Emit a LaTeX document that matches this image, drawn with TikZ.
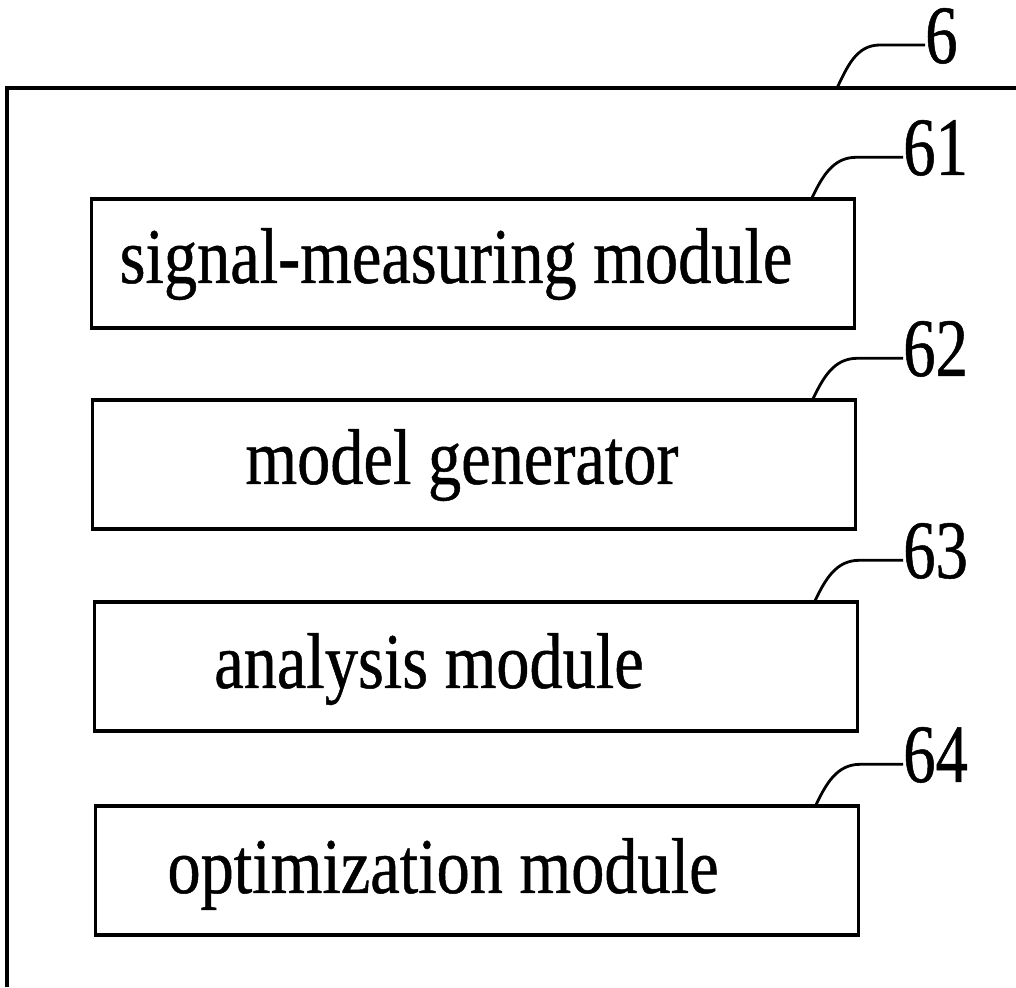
\documentclass[tikz,border=0pt]{standalone}
\usepackage{fontspec}
\setmainfont{Liberation Serif}[FakeStretch=0.84, FakeBold=0.6]
\newfontfamily\numfont{Liberation Serif}[FakeStretch=0.78, FakeBold=0.6]
\usepackage{tikz}
\usetikzlibrary{positioning}

\tikzset{
  modbox/.style={draw, line width=3.4pt, minimum width=763pt, minimum height=129pt, inner sep=0pt},
  modtext/.style={inner sep=0pt, font=\fontsize{79}{81}\selectfont},
  numtext/.style={inner sep=0pt, font=\numfont\fontsize{83}{85}\selectfont},
  leader/.style={line width=2.8pt},
  frame/.style={line width=4pt}
}

\begin{document}
\begin{tikzpicture}[x=1pt, y=1pt]
    \useasboundingbox (0,0) rectangle (1016,987);

    % Draw outer frame of unit 6
    \draw[frame] (7,0) -- (7,899) -- (1016,899);
    \coordinate (f6) at (837,899);
    \node[numtext, anchor=base west] (n6) at (925,924) {6};
    \draw[leader] (f6) to[out=64,in=180] ++(43,43) coordinate (k6) -- (k6 -| n6.west);

    % Modules
    \foreach \n/\cx/\cy/\tx/\ty/\txt in {61/473/723.5/456/704/signal-measuring module, 62/474/522.5/462/503/model generator, 63/476/320.5/429/299/analysis module, 64/477/116.5/443/94/optimization module} {
      % Draw box and its text
      \node[modbox] (m\n) at (\cx,\cy) {};
      \node[modtext, anchor=base] (t\n) at (\tx,\ty) {\txt};

      % Draw reference number with its leader
      \node[numtext, anchor=base west] (n\n) at (903,\cy+88.5) {\n};
      \draw[leader] ([xshift=-44]m\n.north east) to[out=64,in=180] ++(44,40) coordinate (k\n) -- (k\n -| n\n.west);
    }
\end{tikzpicture}
\end{document}
